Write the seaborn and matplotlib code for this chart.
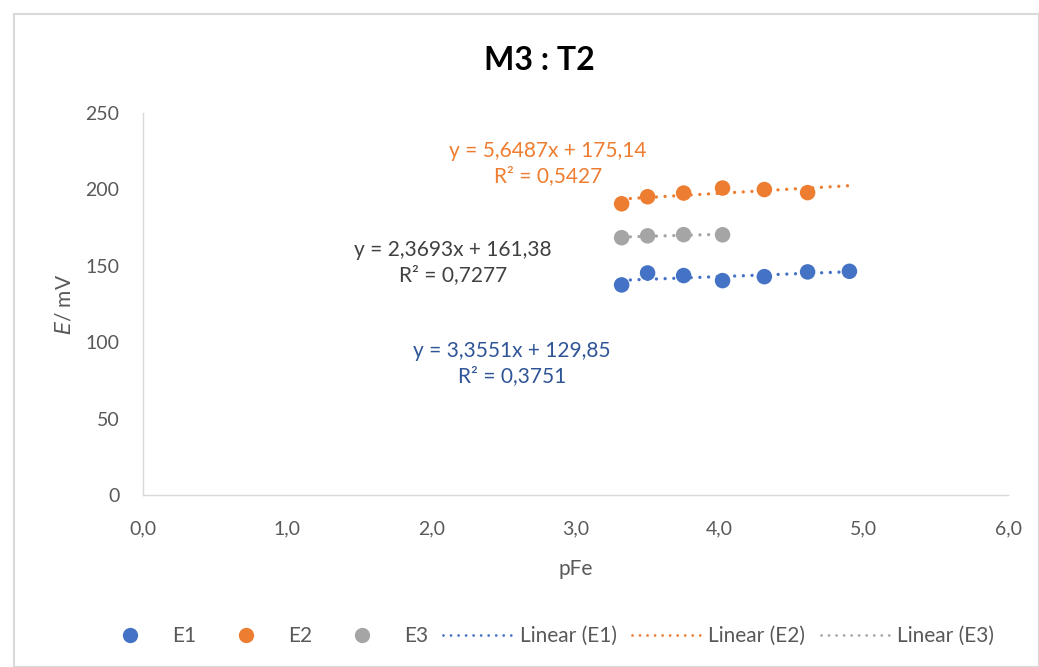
import numpy as np
import pandas as pd
import matplotlib.pyplot as plt
import seaborn as sns
from matplotlib.lines import Line2D
from matplotlib.patches import Rectangle
from matplotlib.ticker import FuncFormatter

# data
pfe_e1 = [3.32, 3.50, 3.75, 4.02, 4.31, 4.61, 4.90]
emv_e1 = [137.5, 145.3, 143.6, 140.3, 142.9, 146.0, 146.4]
pfe_e2 = [3.32, 3.50, 3.75, 4.02, 4.31, 4.61]
emv_e2 = [190.6, 195.2, 197.6, 200.9, 199.9, 197.9]
pfe_e3 = [3.32, 3.50, 3.75, 4.02]
emv_e3 = [168.4, 169.6, 170.4, 170.3]
series_names = ["E1", "E2", "E3"]
eq_labels = {
    "E1": "y = 3,3551x + 129,85\nR² = 0,3751",
    "E2": "y = 5,6487x + 175,14\nR² = 0,5427",
    "E3": "y = 2,3693x + 161,38\nR² = 0,7277",
}

colors = {"E1": "#4472C4", "E2": "#ED7D31", "E3": "#A5A5A5"}
eq_colors = {"E1": "#2F5597", "E2": "#ED7D31", "E3": "#404040"}
eq_pos = {"E1": (2.56, 86), "E2": (2.81, 217), "E3": (2.15, 152)}
trend_end = {"E1": 4.90, "E2": 4.90, "E3": 4.02}

df = pd.concat([
    pd.DataFrame({"pFe": pfe_e1, "E": emv_e1, "serie": "E1"}),
    pd.DataFrame({"pFe": pfe_e2, "E": emv_e2, "serie": "E2"}),
    pd.DataFrame({"pFe": pfe_e3, "E": emv_e3, "serie": "E3"}),
], ignore_index=True)

sns.set_style("white")
plt.rcParams['font.family'] = ['Lato', 'DejaVu Sans']

fig = plt.figure(figsize=(10.39, 6.67), dpi=100)
ax = fig.add_axes([143 / 1039, 1 - 495 / 667, (1008 - 143) / 1039, (495 - 113) / 667])

# fitted trendlines first so the markers sit on top
dotted = (0, (0.01, 2.6))
for s in series_names:
    sub = df[df["serie"] == s]
    k, b = np.polyfit(sub["pFe"], sub["E"], 1)
    xs = np.array([sub["pFe"].min(), trend_end[s]])
    ax.plot(xs, k * xs + b, linestyle=dotted, linewidth=2.4,
            color=colors[s], dash_capstyle='round', zorder=2)

sns.scatterplot(data=df, x="pFe", y="E", hue="serie", palette=colors,
                s=125, edgecolor="none", legend=False, ax=ax, zorder=3)

for s in series_names:
    ax.text(eq_pos[s][0], eq_pos[s][1], eq_labels[s], color=eq_colors[s],
            fontsize=15, ha="center", va="center", linespacing=1.3)

ax.set_xlim(0, 6)
ax.set_ylim(0, 250)
ax.set_xticks(np.arange(0, 7, 1))
ax.set_yticks(np.arange(0, 251, 50))
ax.xaxis.set_major_formatter(FuncFormatter(lambda v, p: f"{v:.1f}".replace(".", ",")))
ax.tick_params(axis="both", labelsize=14, colors="#595959", length=0)
ax.tick_params(axis="x", pad=18)
ax.tick_params(axis="y", pad=17)
sns.despine(ax=ax, top=True, right=True)
ax.spines["left"].set_color("#D9D9D9")
ax.spines["bottom"].set_color("#D9D9D9")
ax.spines["left"].set_linewidth(1)
ax.spines["bottom"].set_linewidth(1)
ax.grid(False)

ax.set_xlabel("pFe", fontsize=15, color="#595959", labelpad=16)
ax.set_ylabel(r"$\it{E}$/ mV", fontsize=15, color="#595959", labelpad=8)

fig.text(539 / 1039, 1 - 60 / 667, "M3 : T2", fontsize=23, fontweight="bold",
         ha="center", va="center", color="black")

# legend along the bottom
handles = []
labels = []
for s in series_names:
    handles.append(Line2D([], [], marker="o", linestyle="none", markersize=11,
                          markerfacecolor=colors[s], markeredgecolor="none"))
    labels.append(s)
for s in series_names:
    handles.append(Line2D([], [], linestyle=(0, (0.01, 2.7)), linewidth=2.0,
                          dash_capstyle='round', color=colors[s]))
    labels.append(f"Linear ({s})")
fig.legend(handles, labels, loc="center", bbox_to_anchor=(545 / 1039, 1 - 636 / 667),
           ncol=6, frameon=False, fontsize=15, labelcolor="#595959",
           handlelength=3.3, handletextpad=0.35, columnspacing=0.75)

# chart border
fig.patches.append(Rectangle((14 / 1039, 0), 1 - 14 / 1039, 1 - 14 / 667,
                             transform=fig.transFigure, fill=False,
                             edgecolor="#D9D9D9", linewidth=1.5))

fig.savefig("out.png", dpi=100)
